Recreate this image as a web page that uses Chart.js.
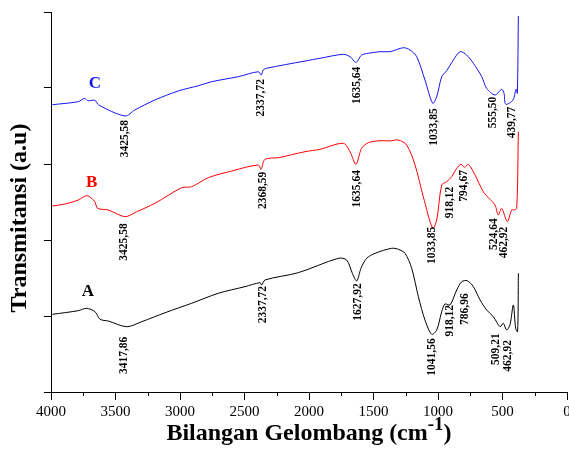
<!DOCTYPE html>
<html>
<head>
<meta charset="utf-8">
<script src="https://cdn.jsdelivr.net/npm/chart.js@4.4.0/dist/chart.umd.min.js"></script>
<style>
  html, body { margin: 0; padding: 0; background: #fff; }
  #wrap { width: 569px; height: 469px; }
</style>
</head>
<body>
<div id="wrap"><canvas id="ftirChart" width="569" height="469"></canvas></div>
<script>
// wavenumber (cm-1) and transmittance (a.u)
const WAVE_A = [3990,3788,3723,3659,3620,3556,3413,3297,3116,2910,2703,2496,2380,2367,2341,2083,1773,1708,1664,1630,1597,1553,1488,1359,1308,1256,1204,1152,1101,1049,1010,971,946,907,855,816,773,726,674,623,571,519,494,468,442,416,398,383,377];
const TRANS_A = [1.022,1.070,1.101,1.057,0.957,0.934,0.859,0.925,1.043,1.167,1.299,1.386,1.438,1.408,1.474,1.570,1.759,1.737,1.562,1.461,1.628,1.759,1.825,1.891,1.878,1.825,1.628,1.254,0.947,0.759,0.816,1.057,1.158,1.145,1.342,1.451,1.464,1.386,1.211,1.079,0.991,0.859,0.904,0.816,0.882,1.145,0.838,0.793,1.562];

const WAVE_B = [3990,3891,3788,3723,3664,3638,3556,3426,3336,3194,2987,2910,2781,2599,2393,2372,2341,2238,2031,1915,1734,1682,1636,1592,1540,1450,1372,1308,1243,1178,1114,1041,1010,971,933,894,855,822,796,765,713,649,597,558,533,506,463,429,411,390,377];
const TRANS_B = [2.447,2.474,2.526,2.583,2.513,2.417,2.395,2.307,2.372,2.483,2.688,2.701,2.820,2.908,2.987,2.930,3.062,3.083,3.162,3.193,3.272,3.162,2.996,3.207,3.280,3.307,3.303,3.316,3.250,2.987,2.570,2.154,2.263,2.724,2.767,2.833,2.943,2.996,2.957,2.996,2.855,2.636,2.536,2.461,2.329,2.417,2.241,2.395,2.395,2.417,3.425];

const WAVE_C = [3990,3790,3740,3715,3660,3630,3426,3350,3195,3013,2858,2754,2548,2393,2370,2355,2330,2031,1915,1734,1682,1636,1592,1540,1450,1372,1269,1217,1165,1101,1041,1010,971,933,881,829,778,726,661,623,558,506,488,475,419,395,385,377];
const TRANS_C = [3.780,3.820,3.864,3.833,3.838,3.776,3.632,3.711,3.842,3.961,4.030,4.083,4.149,4.214,4.171,4.237,4.259,4.355,4.391,4.443,4.412,4.338,4.434,4.457,4.478,4.478,4.530,4.500,4.412,4.105,3.799,3.886,4.149,4.228,4.368,4.478,4.434,4.325,4.149,3.996,3.908,3.983,3.930,3.786,3.842,3.983,3.930,4.947];

// peak annotations: label text, wavenumber where it sits, value where the text starts
const PEAK_TEXT_A = ['3417,86','2337,72','1627,92','1041,56','918,12','786,96','509,21','462,92'];
const PEAK_WAVE_A = [3434,2359,1622,1049,907,791,553,460];
const PEAK_TOP_A = [0.728,1.395,1.430,0.707,1.145,1.299,0.772,0.684];

const PEAK_TEXT_B = ['3425,58','2368,59','1635,64','1033,85','918,12','794,67','524,64','462,92'];
const PEAK_WAVE_B = [3434,2354,1630,1044,903,796,564,488];
const PEAK_TOP_B = [2.220,2.899,2.921,2.175,2.701,2.921,2.286,2.175];

const PEAK_TEXT_C = ['3425,58','2337,72','1635,64','1033,85','555,50','439,77'];
const PEAK_WAVE_C = [3426,2372,1630,1029,571,429];
const PEAK_TOP_C = [3.579,4.118,4.280,3.733,3.886,3.754];

const SAMPLE_NAMES = ['A', 'B', 'C'];
const SAMPLE_COLORS = ['#000000', '#ff0000', '#1414f0'];
const NAME_WAVE = [3715, 3684, 3659];
const NAME_VALUE = [1.320, 2.750, 4.053];

const X_TITLE = 'Bilangan Gelombang (cm';
const X_TITLE_SUP = '-1';
const Y_TITLE = 'Transmitansi (a.u)';

function toPoints(xs, ys) {
    return xs.map((x, i) => ({ x: x, y: ys[i] }));
}

const peakGroups = [
    { text: PEAK_TEXT_A, wave: PEAK_WAVE_A, top: PEAK_TOP_A },
    { text: PEAK_TEXT_B, wave: PEAK_WAVE_B, top: PEAK_TOP_B },
    { text: PEAK_TEXT_C, wave: PEAK_WAVE_C, top: PEAK_TOP_C }
];

const labelPlugin = {
    id: 'labels',
    afterDraw(chart) {
        const ctx = chart.ctx;
        const xs = chart.scales.x;
        const ys = chart.scales.y;
        const area = chart.chartArea;

        // minor ticks
        ctx.save();
        ctx.strokeStyle = '#000';
        ctx.lineWidth = 1;
        for (let v = 250; v < 4000; v += 500) {
            const px = Math.round(xs.getPixelForValue(v)) + 0.5;
            ctx.beginPath();
            ctx.moveTo(px, area.bottom);
            ctx.lineTo(px, area.bottom + 4);
            ctx.stroke();
        }
        ctx.restore();

        // peak numbers
        ctx.save();
        ctx.fillStyle = '#000';
        ctx.font = 'bold 11.5px "Liberation Serif", serif';
        ctx.textAlign = 'right';
        ctx.textBaseline = 'middle';
        peakGroups.forEach(g => {
            g.text.forEach((t, i) => {
                const px = xs.getPixelForValue(g.wave[i]);
                const py = ys.getPixelForValue(g.top[i]);
                ctx.save();
                ctx.translate(px, py);
                ctx.rotate(-Math.PI / 2);
                ctx.fillText(t, 0, 0);
                ctx.restore();
            });
        });
        ctx.restore();

        // sample letters
        ctx.save();
        ctx.font = 'bold 17px "Liberation Serif", serif';
        ctx.textAlign = 'center';
        ctx.textBaseline = 'middle';
        SAMPLE_NAMES.forEach((n, i) => {
            ctx.fillStyle = SAMPLE_COLORS[i];
            ctx.fillText(n, xs.getPixelForValue(NAME_WAVE[i]), ys.getPixelForValue(NAME_VALUE[i]));
        });
        ctx.restore();

        // axis titles
        ctx.save();
        ctx.fillStyle = '#000';
        const big = 'bold 24px "Liberation Serif", serif';
        const sup = 'bold 19px "Liberation Serif", serif';
        ctx.textBaseline = 'alphabetic';
        ctx.font = big;
        const w1 = ctx.measureText(X_TITLE).width;
        const w3 = ctx.measureText(')').width;
        ctx.font = sup;
        const w2 = ctx.measureText(X_TITLE_SUP).width;
        const cx = (area.left + area.right) / 2;
        const x0 = cx - (w1 + w2 + w3) / 2;
        const base = 440;
        ctx.textAlign = 'left';
        ctx.font = big;
        ctx.fillText(X_TITLE, x0, base);
        ctx.font = sup;
        ctx.fillText(X_TITLE_SUP, x0 + w1, base - 10);
        ctx.font = big;
        ctx.fillText(')', x0 + w1 + w2, base);

        ctx.translate(20, 218);
        ctx.rotate(-Math.PI / 2);
        ctx.textAlign = 'center';
        ctx.textBaseline = 'middle';
        ctx.fillText(Y_TITLE, 0, 0);
        ctx.restore();
    }
};

const lineStyle = {
    borderWidth: 1,
    pointRadius: 0,
    fill: false,
    tension: 0.3
};

new Chart(document.getElementById('ftirChart'), {
    type: 'line',
    data: {
        datasets: [
            Object.assign({ label: 'A', data: toPoints(WAVE_A, TRANS_A), borderColor: SAMPLE_COLORS[0] }, lineStyle),
            Object.assign({ label: 'B', data: toPoints(WAVE_B, TRANS_B), borderColor: SAMPLE_COLORS[1] }, lineStyle),
            Object.assign({ label: 'C', data: toPoints(WAVE_C, TRANS_C), borderColor: SAMPLE_COLORS[2] }, lineStyle)
        ]
    },
    options: {
        responsive: false,
        animation: false,
        layout: { padding: { top: 12, right: 2, left: 0, bottom: 0 } },
        plugins: {
            legend: { display: false },
            tooltip: { enabled: false }
        },
        scales: {
            x: {
                type: 'linear',
                reverse: true,
                min: 0,
                max: 4000,
                ticks: {
                    stepSize: 250,
                    autoSkip: false,
                    maxRotation: 0,
                    padding: 3,
                    color: '#000',
                    font: { family: '"Liberation Serif", serif', size: 15 },
                    callback: v => (v % 500 === 0 ? v : '')
                },
                grid: {
                    drawOnChartArea: false,
                    tickLength: 8,
                    tickColor: c => (c.tick && c.tick.value % 500 === 0 ? '#000' : 'rgba(0,0,0,0)')
                },
                border: { color: '#000', width: 1 },
                afterFit: s => { s.height = 77; s.paddingLeft = 0; s.paddingRight = 0; }
            },
            y: {
                min: 0,
                max: 5,
                ticks: { stepSize: 1, display: false },
                grid: { drawOnChartArea: false, tickLength: 7, tickColor: '#000' },
                border: { color: '#000', width: 1 },
                afterFit: s => { s.width = 51; }
            }
        }
    },
    plugins: [labelPlugin]
});
</script>
</body>
</html>
